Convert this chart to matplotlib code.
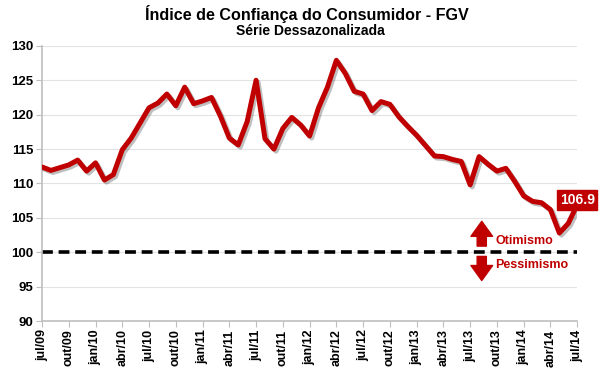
import matplotlib
matplotlib.use("Agg")
import matplotlib.pyplot as plt
import matplotlib.patheffects as pe
import numpy as np

plt.rcParams['font.family'] = ['Liberation Sans', 'DejaVu Sans']

# Monthly values, jul/09 .. jul/14 (seasonally adjusted ICC - FGV)
icc = [112.4, 111.9, 112.3, 112.7, 113.4, 111.8, 113.0, 110.5, 111.3, 114.9,
       116.6, 118.8, 121.0, 121.7, 123.0, 121.3, 124.0, 121.6, 122.0, 122.5,
       119.8, 116.6, 115.6, 119.0, 125.0, 116.5, 115.0, 118.0, 119.6, 118.5,
       116.9, 121.0, 124.0, 127.9, 126.0, 123.4, 123.0, 120.6, 121.9, 121.5,
       119.7, 118.3, 117.0, 115.5, 114.0, 113.9, 113.5, 113.2, 109.8, 113.9,
       112.8, 111.8, 112.2, 110.3, 108.2, 107.4, 107.2, 106.2, 102.8, 104.2,
       106.9]
tick_labels = ['jul/09', 'out/09', 'jan/10', 'abr/10', 'jul/10', 'out/10', 'jan/11',
               'abr/11', 'jul/11', 'out/11', 'jan/12', 'abr/12', 'jul/12', 'out/12',
               'jan/13', 'abr/13', 'jul/13', 'out/13', 'jan/14', 'abr/14', 'jul/14']
neutral = 100

red = '#C00000'
x = np.arange(len(icc))

fig = plt.figure(figsize=(6, 3.76), dpi=100)
ax = fig.add_axes([0.07, 0.146, 0.892, 0.732])

ax.plot(x, icc, color=red, lw=3.6, solid_capstyle='round', solid_joinstyle='round', zorder=3,
        path_effects=[pe.SimpleLineShadow(offset=(1.5, -1.5), alpha=0.25), pe.Normal()])
ax.axhline(neutral, color='black', lw=2.6, dashes=(3, 1.6), zorder=2)

ax.set_xlim(0, len(icc) - 1)
ax.set_ylim(90, 130)
ax.set_yticks(np.arange(90, 131, 5))
ax.set_xticks(np.arange(0, len(icc), 3))
ax.set_xticklabels(tick_labels, rotation=90, fontweight='bold', fontsize=9)
for lab in ax.get_yticklabels():
    lab.set_fontweight('bold')
    lab.set_fontsize(9.5)

ax.grid(axis='y', color='#E3E3E3', lw=0.8)
ax.set_axisbelow(True)
for s in ['top', 'right']:
    ax.spines[s].set_visible(False)
for s in ['left', 'bottom']:
    ax.spines[s].set_color('#BFBFBF')
    ax.spines[s].set_linewidth(1.2)
ax.tick_params(axis='both', color='#BFBFBF', length=4, pad=2)

# optimism / pessimism arrows
ax.annotate('', xy=(49.3, 104.5), xytext=(49.3, 100.9),
            arrowprops=dict(arrowstyle='simple,head_width=1.3,head_length=0.9,tail_width=0.55',
                            color=red, mutation_scale=12, shrinkA=0, shrinkB=0))
ax.annotate('', xy=(49.3, 95.9), xytext=(49.3, 99.4),
            arrowprops=dict(arrowstyle='simple,head_width=1.3,head_length=0.9,tail_width=0.55',
                            color=red, mutation_scale=12, shrinkA=0, shrinkB=0))
ax.text(50.8, 101.7, 'Otimismo', color=red, fontweight='bold', fontsize=9, va='center')
ax.text(50.8, 98.1, 'Pessimismo', color=red, fontweight='bold', fontsize=9, va='center')

ax.text(len(icc) - 1, icc[-1] + 0.7, f'{icc[-1]:.1f}', color='white', fontweight='bold',
        fontsize=10, ha='center', va='center', clip_on=False, zorder=5,
        bbox=dict(boxstyle='square,pad=0.2', fc=red, ec=red))

fig.text(0.512, 0.962, 'Índice de Confiança do Consumidor - FGV', ha='center', va='center',
         fontweight='bold', fontsize=11.6)
fig.text(0.518, 0.918, 'Série Dessazonalizada', ha='center', va='center',
         fontweight='bold', fontsize=10)

fig.savefig('out.png', dpi=100)
